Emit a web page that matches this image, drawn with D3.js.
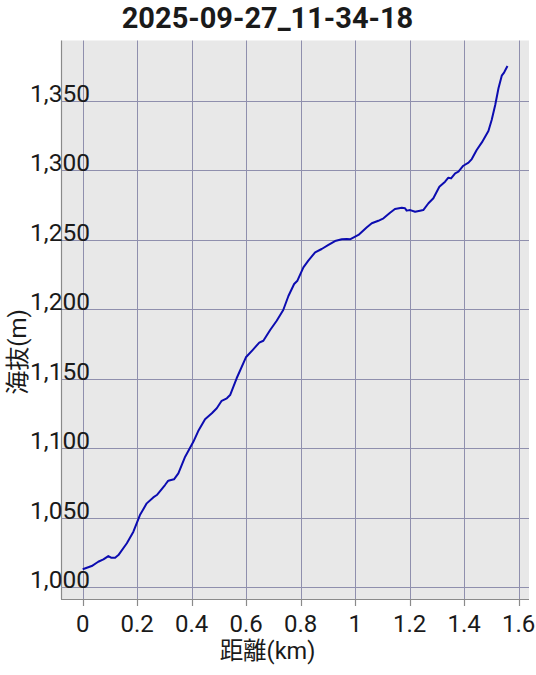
<!DOCTYPE html>
<html>
<head>
<meta charset="utf-8">
<script src="https://cdn.jsdelivr.net/npm/d3@7"></script>
<style>
  html, body { margin: 0; padding: 0; background: #ffffff; }
  svg { display: block; }
  text { font-family: Roboto, "Noto Sans CJK JP", sans-serif; fill: #1a1a1a; }
</style>
</head>
<body>
<svg id="chart" width="536" height="675"></svg>
<script>
const titleText = "2025-09-27_11-34-18";
const xLabel = "距離(km)";
const yLabel = "海抜(m)";

const distKm = [0.000, 0.033, 0.057, 0.076, 0.094, 0.104, 0.119, 0.131, 0.162, 0.186,
  0.210, 0.235, 0.259, 0.272, 0.302, 0.314, 0.335, 0.351, 0.376, 0.406,
  0.424, 0.449, 0.474, 0.492, 0.510, 0.529, 0.541, 0.565, 0.599, 0.626,
  0.648, 0.663, 0.688, 0.712, 0.736, 0.755, 0.776, 0.788, 0.810, 0.828,
  0.853, 0.877, 0.902, 0.926, 0.951, 0.969, 0.981, 1.012, 1.043, 1.061,
  1.085, 1.104, 1.128, 1.146, 1.171, 1.183, 1.189, 1.202, 1.220, 1.238,
  1.250, 1.269, 1.287, 1.309, 1.330, 1.342, 1.352, 1.367, 1.379, 1.397,
  1.416, 1.428, 1.446, 1.465, 1.489, 1.501, 1.514, 1.526, 1.538, 1.547, 1.559];

const elevM = [1013.0, 1015.3, 1018.4, 1020.1, 1022.5, 1021.3, 1021.3, 1023.2, 1031.7, 1040.0,
  1052.0, 1060.4, 1064.7, 1066.4, 1073.6, 1076.7, 1077.7, 1082.0, 1094.0, 1104.7,
  1112.4, 1120.9, 1125.2, 1128.8, 1134.2, 1136.0, 1138.3, 1150.4, 1165.5, 1171.2,
  1176.0, 1177.4, 1185.1, 1191.8, 1199.5, 1209.6, 1218.2, 1220.6, 1230.2, 1235.0,
  1241.0, 1243.4, 1246.3, 1249.1, 1250.4, 1250.6, 1250.4, 1253.5, 1259.0, 1261.9,
  1263.7, 1265.5, 1269.5, 1272.2, 1273.1, 1272.7, 1271.0, 1271.4, 1270.2, 1270.9,
  1271.4, 1276.3, 1279.9, 1288.2, 1291.8, 1294.7, 1294.2, 1297.8, 1299.0, 1303.3,
  1305.5, 1308.1, 1314.6, 1320.1, 1328.3, 1336.2, 1347.0, 1359.0, 1368.1, 1370.5, 1375.0];

const xTicks = [0, 0.2, 0.4, 0.6, 0.8, 1, 1.2, 1.4, 1.6];
const yTicks = [1000, 1050, 1100, 1150, 1200, 1250, 1300, 1350];

const plot = { left: 61, right: 529, top: 40.5, bottom: 599 };

const x = d3.scaleLinear().domain([-0.0797, 1.638]).range([plot.left, plot.right]);
const y = d3.scaleLinear().domain([991.6, 1393.4]).range([plot.bottom, plot.top]);

const svg = d3.select("#chart");

// background
svg.append("rect")
  .attr("x", plot.left).attr("y", plot.top)
  .attr("width", plot.right - plot.left).attr("height", plot.bottom - plot.top)
  .attr("fill", "#e8e8e8");

// grid
const grid = svg.append("g").attr("stroke", "#8f8fad").attr("stroke-width", 1);
grid.selectAll("line.vx").data(xTicks).join("line")
  .attr("x1", d => Math.round(x(d)) + 0.5).attr("x2", d => Math.round(x(d)) + 0.5)
  .attr("y1", plot.top).attr("y2", plot.bottom);
grid.selectAll("line.hy").data(yTicks).join("line")
  .attr("y1", d => Math.round(y(d)) + 0.5).attr("y2", d => Math.round(y(d)) + 0.5)
  .attr("x1", plot.left).attr("x2", plot.right);

// axes lines
svg.append("line").attr("x1", plot.left + 0.5).attr("x2", plot.left + 0.5)
  .attr("y1", plot.top).attr("y2", plot.bottom).attr("stroke", "#8a8a8a").attr("stroke-width", 1.2);
svg.append("line").attr("x1", plot.left).attr("x2", plot.right)
  .attr("y1", plot.bottom + 0.5).attr("y2", plot.bottom + 0.5).attr("stroke", "#8a8a8a").attr("stroke-width", 1.2);

// x ticks marks
svg.append("g").selectAll("line").data(xTicks).join("line")
  .attr("x1", d => Math.round(x(d)) + 0.5).attr("x2", d => Math.round(x(d)) + 0.5)
  .attr("y1", plot.bottom).attr("y2", plot.bottom + 7)
  .attr("stroke", "#8a8a8a").attr("stroke-width", 1.2);

// x tick labels
svg.append("g").selectAll("text").data(xTicks).join("text")
  .attr("x", d => x(d)).attr("y", 631.5)
  .attr("text-anchor", "middle")
  .attr("font-size", 24)
  .text(d => d3.format("")(d));

// y tick labels
svg.append("g").selectAll("text").data(yTicks).join("text")
  .attr("x", 90).attr("y", d => y(d) + 1)
  .attr("text-anchor", "end")
  .attr("font-size", 24.5)
  .text(d => d3.format(",")(d));

// line
const line = d3.line().x((d, i) => x(distKm[i])).y(d => y(d));
svg.append("path")
  .datum(elevM)
  .attr("d", line)
  .attr("fill", "none")
  .attr("stroke", "#0c0cb0")
  .attr("stroke-width", 2)
  .attr("stroke-linejoin", "round");

// title
svg.append("text")
  .attr("x", 267.5).attr("y", 27.5)
  .attr("text-anchor", "middle")
  .attr("font-size", 29)
  .attr("font-weight", "bold")
  .text(titleText);

// x label
svg.append("text")
  .attr("x", 267.5).attr("y", 659)
  .attr("text-anchor", "middle")
  .attr("font-size", 23.5)
  .text(xLabel);

// y label
svg.append("text")
  .attr("transform", "translate(26,352) rotate(-90)")
  .attr("text-anchor", "middle")
  .attr("font-size", 24)
  .text(yLabel);
</script>
</body>
</html>
